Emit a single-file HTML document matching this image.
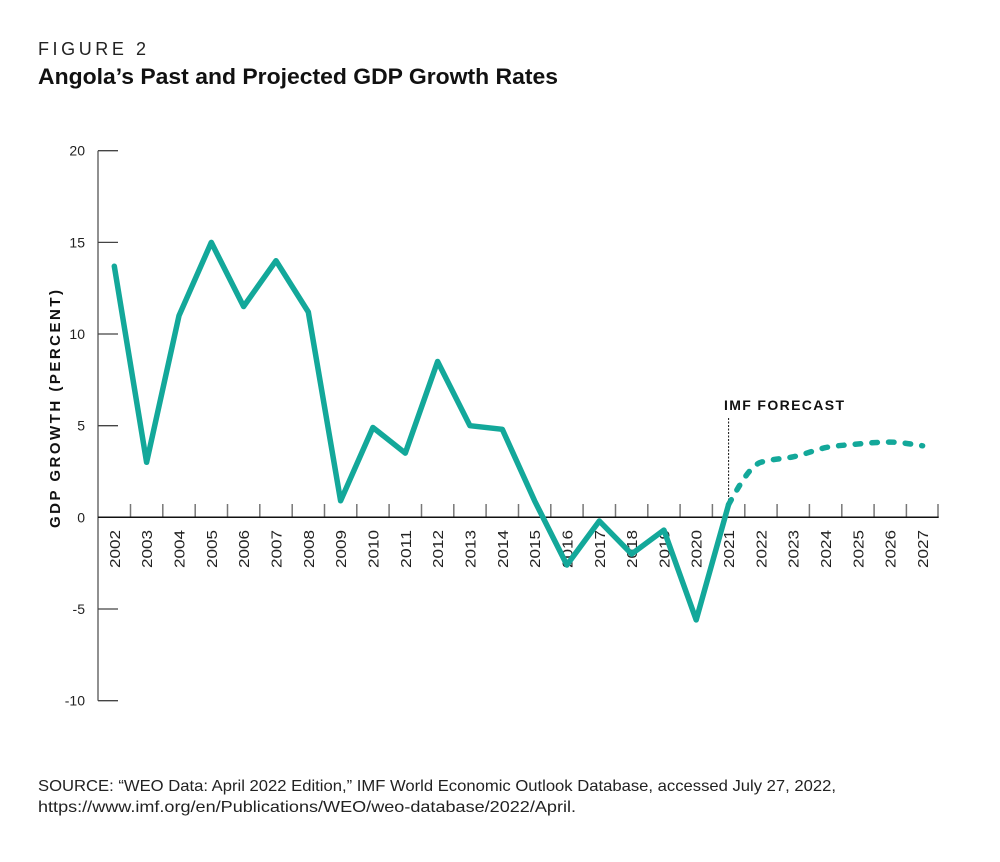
<!DOCTYPE html>
<html>
<head>
<meta charset="utf-8">
<style>
  html,body{margin:0;padding:0;background:#fff;}
  svg{display:block;}
  text{font-family:"Liberation Sans", sans-serif;}
</style>
</head>
<body>
<svg width="1000" height="862" viewBox="0 0 1000 862" xmlns="http://www.w3.org/2000/svg">
  <rect width="1000" height="862" fill="#fff"/>
  <!-- Titles -->
  <text x="38" y="55" font-size="18" fill="#222" textLength="108" lengthAdjust="spacing">FIGURE 2</text>
  <text x="38" y="84" font-size="22" font-weight="bold" fill="#111" textLength="520" lengthAdjust="spacingAndGlyphs">Angola’s Past and Projected GDP Growth Rates</text>

  <!-- Y axis -->
  <line x1="98" y1="150.7" x2="98" y2="700.7" stroke="#555" stroke-width="1.3"/>
  <g stroke="#444" stroke-width="1.3">
    <line x1="98" y1="150.7" x2="118" y2="150.7"/>
    <line x1="98" y1="242.4" x2="118" y2="242.4"/>
    <line x1="98" y1="334.0" x2="118" y2="334.0"/>
    <line x1="98" y1="425.7" x2="118" y2="425.7"/>
    <line x1="98" y1="609.0" x2="118" y2="609.0"/>
    <line x1="98" y1="700.7" x2="118" y2="700.7"/>
  </g>
  <g font-size="14" fill="#222" text-anchor="end">
    <text x="85" y="155.7">20</text>
    <text x="85" y="247.4">15</text>
    <text x="85" y="339.0">10</text>
    <text x="85" y="430.7">5</text>
    <text x="85" y="522.3">0</text>
    <text x="85" y="614.0">-5</text>
    <text x="85" y="705.7">-10</text>
  </g>
  <text transform="translate(60,409) rotate(-90)" font-size="15" font-weight="bold" fill="#111" text-anchor="middle" textLength="238" lengthAdjust="spacing">GDP GROWTH (PERCENT)</text>

  <!-- X axis ticks -->
  <g stroke="#777" stroke-width="1.5">
    <line x1="130.5" y1="504" x2="130.5" y2="517"/>
    <line x1="162.8" y1="504" x2="162.8" y2="517"/>
    <line x1="195.2" y1="504" x2="195.2" y2="517"/>
    <line x1="227.5" y1="504" x2="227.5" y2="517"/>
    <line x1="259.8" y1="504" x2="259.8" y2="517"/>
    <line x1="292.2" y1="504" x2="292.2" y2="517"/>
    <line x1="324.5" y1="504" x2="324.5" y2="517"/>
    <line x1="356.8" y1="504" x2="356.8" y2="517"/>
    <line x1="389.1" y1="504" x2="389.1" y2="517"/>
    <line x1="421.5" y1="504" x2="421.5" y2="517"/>
    <line x1="453.8" y1="504" x2="453.8" y2="517"/>
    <line x1="486.1" y1="504" x2="486.1" y2="517"/>
    <line x1="518.5" y1="504" x2="518.5" y2="517"/>
    <line x1="550.8" y1="504" x2="550.8" y2="517"/>
    <line x1="583.1" y1="504" x2="583.1" y2="517"/>
    <line x1="615.5" y1="504" x2="615.5" y2="517"/>
    <line x1="647.8" y1="504" x2="647.8" y2="517"/>
    <line x1="680.1" y1="504" x2="680.1" y2="517"/>
    <line x1="712.4" y1="504" x2="712.4" y2="517"/>
    <line x1="744.8" y1="504" x2="744.8" y2="517"/>
    <line x1="777.1" y1="504" x2="777.1" y2="517"/>
    <line x1="809.4" y1="504" x2="809.4" y2="517"/>
    <line x1="841.8" y1="504" x2="841.8" y2="517"/>
    <line x1="874.1" y1="504" x2="874.1" y2="517"/>
    <line x1="906.4" y1="504" x2="906.4" y2="517"/>
    <line x1="938" y1="504" x2="938" y2="517"/>
  </g>
  <line x1="98" y1="517.3" x2="938.7" y2="517.3" stroke="#111" stroke-width="1.5"/>

  <!-- X labels -->
  <g font-size="15" fill="#222" text-anchor="end">
    <text transform="translate(119.8,530) rotate(-90)" textLength="38" lengthAdjust="spacingAndGlyphs">2002</text>
    <text transform="translate(152.1,530) rotate(-90)" textLength="38" lengthAdjust="spacingAndGlyphs">2003</text>
    <text transform="translate(184.5,530) rotate(-90)" textLength="38" lengthAdjust="spacingAndGlyphs">2004</text>
    <text transform="translate(216.8,530) rotate(-90)" textLength="38" lengthAdjust="spacingAndGlyphs">2005</text>
    <text transform="translate(249.1,530) rotate(-90)" textLength="38" lengthAdjust="spacingAndGlyphs">2006</text>
    <text transform="translate(281.5,530) rotate(-90)" textLength="38" lengthAdjust="spacingAndGlyphs">2007</text>
    <text transform="translate(313.8,530) rotate(-90)" textLength="38" lengthAdjust="spacingAndGlyphs">2008</text>
    <text transform="translate(346.1,530) rotate(-90)" textLength="38" lengthAdjust="spacingAndGlyphs">2009</text>
    <text transform="translate(378.4,530) rotate(-90)" textLength="38" lengthAdjust="spacingAndGlyphs">2010</text>
    <text transform="translate(410.8,530) rotate(-90)" textLength="38" lengthAdjust="spacingAndGlyphs">2011</text>
    <text transform="translate(443.1,530) rotate(-90)" textLength="38" lengthAdjust="spacingAndGlyphs">2012</text>
    <text transform="translate(475.4,530) rotate(-90)" textLength="38" lengthAdjust="spacingAndGlyphs">2013</text>
    <text transform="translate(507.8,530) rotate(-90)" textLength="38" lengthAdjust="spacingAndGlyphs">2014</text>
    <text transform="translate(540.1,530) rotate(-90)" textLength="38" lengthAdjust="spacingAndGlyphs">2015</text>
    <text transform="translate(572.4,530) rotate(-90)" textLength="38" lengthAdjust="spacingAndGlyphs">2016</text>
    <text transform="translate(604.8,530) rotate(-90)" textLength="38" lengthAdjust="spacingAndGlyphs">2017</text>
    <text transform="translate(637.1,530) rotate(-90)" textLength="38" lengthAdjust="spacingAndGlyphs">2018</text>
    <text transform="translate(669.4,530) rotate(-90)" textLength="38" lengthAdjust="spacingAndGlyphs">2019</text>
    <text transform="translate(701.7,530) rotate(-90)" textLength="38" lengthAdjust="spacingAndGlyphs">2020</text>
    <text transform="translate(734.1,530) rotate(-90)" textLength="38" lengthAdjust="spacingAndGlyphs">2021</text>
    <text transform="translate(766.4,530) rotate(-90)" textLength="38" lengthAdjust="spacingAndGlyphs">2022</text>
    <text transform="translate(798.7,530) rotate(-90)" textLength="38" lengthAdjust="spacingAndGlyphs">2023</text>
    <text transform="translate(831.1,530) rotate(-90)" textLength="38" lengthAdjust="spacingAndGlyphs">2024</text>
    <text transform="translate(863.4,530) rotate(-90)" textLength="38" lengthAdjust="spacingAndGlyphs">2025</text>
    <text transform="translate(895.7,530) rotate(-90)" textLength="38" lengthAdjust="spacingAndGlyphs">2026</text>
    <text transform="translate(928.1,530) rotate(-90)" textLength="38" lengthAdjust="spacingAndGlyphs">2027</text>
  </g>

  <!-- IMF forecast marker -->
  <line x1="728.6" y1="418" x2="728.6" y2="504" stroke="#111" stroke-width="1" stroke-dasharray="2 1.5"/>
  <text x="724" y="410" font-size="14" font-weight="bold" fill="#111" textLength="120" lengthAdjust="spacing">IMF FORECAST</text>

  <!-- Series: historical -->
  <polyline fill="none" stroke="#13a89a" stroke-width="5.5" stroke-linejoin="round" stroke-linecap="round"
    points="114.3,266.2 146.6,462.3 179.0,315.7 211.3,242.4 243.6,306.5 276.0,260.7 308.3,312.0 340.6,500.8 372.9,427.5 405.3,453.1 437.6,361.5 469.9,425.7 502.3,429.3 534.6,500.8 566.9,565.0 599.3,521.0 631.6,554.0 663.9,530.1 696.2,619.9 728.6,504.5"/>

  <!-- Series: forecast (dashed) -->
  <path fill="none" stroke="#13a89a" stroke-width="5.5" stroke-linecap="round" stroke-dasharray="5.5 11.2"
    d="M728.6,504.5 C739.2,485.6 750.3,465.5 760.9,462.3 C771.7,458.9 782.4,459.1 793.2,456.8 C804.0,454.6 814.8,450.0 825.6,447.6 C836.4,445.4 847.1,445.1 857.9,444.0 C868.7,442.9 879.4,442.1 890.2,442.1 C901.0,442.1 911.8,444.3 922.6,445.8"/>

  <!-- Source -->
  <text x="38" y="791" font-size="16" fill="#222" textLength="798" lengthAdjust="spacingAndGlyphs">SOURCE: “WEO Data: April 2022 Edition,” IMF World Economic Outlook Database, accessed July 27, 2022,</text>
  <text x="38" y="812" font-size="16" fill="#222" textLength="538" lengthAdjust="spacingAndGlyphs">https://www.imf.org/en/Publications/WEO/weo-database/2022/April.</text>
</svg>
</body>
</html>
